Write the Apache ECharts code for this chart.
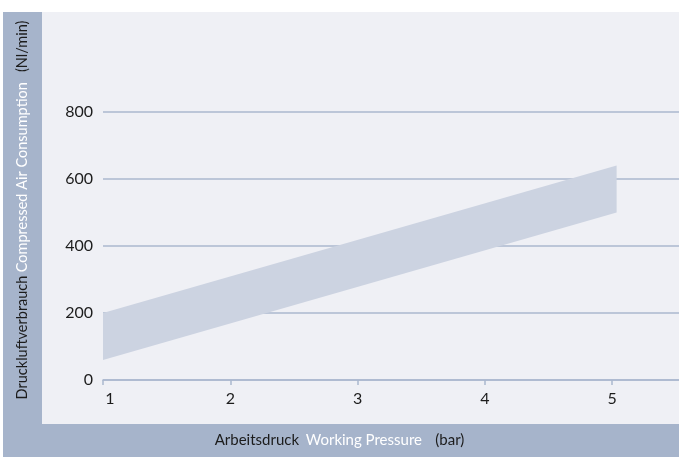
<!DOCTYPE html>
<html>
<head>
<meta charset="utf-8">
<script src="https://cdn.jsdelivr.net/npm/echarts@6/dist/echarts.min.js"></script>
<style>
  html, body { margin: 0; padding: 0; background: #ffffff; }
  #chart { width: 679px; height: 457px; }
</style>
</head>
<body>
<div id="chart"></div>
<script>
// Working pressure (bar) and the consumption band (Nl/min)
var pressure = [1, 5.035];
var consumptionLow = [60, 500];
var consumptionHigh = [200, 640];

// Axis ticks
var xTicks = [1, 2, 3, 4, 5];
var yTicks = [0, 200, 400, 600, 800];

var FONT = 'Lato, "Open Sans", sans-serif';
var BAR = '#a6b4cb';
var PLOT_BG = '#eff0f5';
var LINE = '#abb8ce';
var BAND = '#ccd3e1';
var DARK = '#1c1c1c';

// one row per pressure: [pressure, low, high]
var bandRows = pressure.map(function (p, i) { return [p, consumptionLow[i], consumptionHigh[i]]; });

var chart = echarts.init(document.getElementById('chart'), null, { renderer: 'canvas' });

chart.setOption({
  animation: false,
  backgroundColor: '#ffffff',
  textStyle: { fontFamily: FONT },
  graphic: [
    // side and bottom title bars
    { type: 'rect', z: -10, shape: { x: 3, y: 12, width: 676, height: 445 }, style: { fill: BAR } },
    { type: 'rect', z: -9, shape: { x: 42, y: 12, width: 637, height: 412 }, style: { fill: PLOT_BG } },
    {
      type: 'text', z: 5, left: 'center', top: 433,
      style: {
        text: '{d|Arbeitsdruck}  {w|Working Pressure}    {d|(bar)}',
        rich: {
          d: { fill: DARK, fontSize: 15, fontFamily: FONT },
          w: { fill: '#ffffff', fontSize: 15, fontFamily: FONT }
        }
      }
    },
    {
      type: 'text', z: 5, x: 22, y: 210, rotation: Math.PI / 2,
      style: {
        text: '{d|Druckluftverbrauch} {w|Compressed Air Consumption}   {d|(Nl/min)}',
        align: 'center', verticalAlign: 'middle',
        rich: {
          d: { fill: DARK, fontSize: 14.5, fontFamily: FONT },
          w: { fill: '#ffffff', fontSize: 14.5, fontFamily: FONT }
        }
      }
    }
  ],
  grid: { left: 103, right: 0, top: 112, bottom: 77, containLabel: false },
  xAxis: {
    type: 'value',
    min: xTicks[0],
    max: 5.525,
    interval: 1,
    axisLine: { show: true, lineStyle: { color: LINE, width: 1.5 } },
    axisTick: { show: true, length: 5, lineStyle: { color: LINE, width: 1.5 } },
    splitLine: { show: false },
    axisLabel: {
      showMaxLabel: false,
      margin: 11,
      fontSize: 16,
      color: DARK,
      fontFamily: FONT,
      formatter: function (v) {
        if (xTicks.indexOf(v) < 0) return '';
        return v === xTicks[0] ? '{first|' + v + '}' : String(v);
      },
      rich: { first: { fontSize: 16, color: DARK, fontFamily: FONT, padding: [0, 0, 0, 14] } }
    }
  },
  yAxis: {
    type: 'value',
    min: yTicks[0],
    max: yTicks[yTicks.length - 1],
    interval: 200,
    axisLine: { show: false },
    axisTick: { show: false },
    splitLine: { show: true, lineStyle: { color: LINE, width: 1.5 } },
    axisLabel: { margin: 10, fontSize: 16, color: DARK, fontFamily: FONT }
  },
  series: [
    {
      type: 'custom',
      silent: true,
      z: 1,
      data: [0],
      renderItem: function (params, api) {
        var upper = bandRows.map(function (r) { return api.coord([r[0], r[2]]); });
        var lower = bandRows.map(function (r) { return api.coord([r[0], r[1]]); }).reverse();
        return {
          type: 'polygon',
          shape: { points: upper.concat(lower) },
          style: { fill: BAND }
        };
      }
    }
  ]
});
</script>
</body>
</html>
